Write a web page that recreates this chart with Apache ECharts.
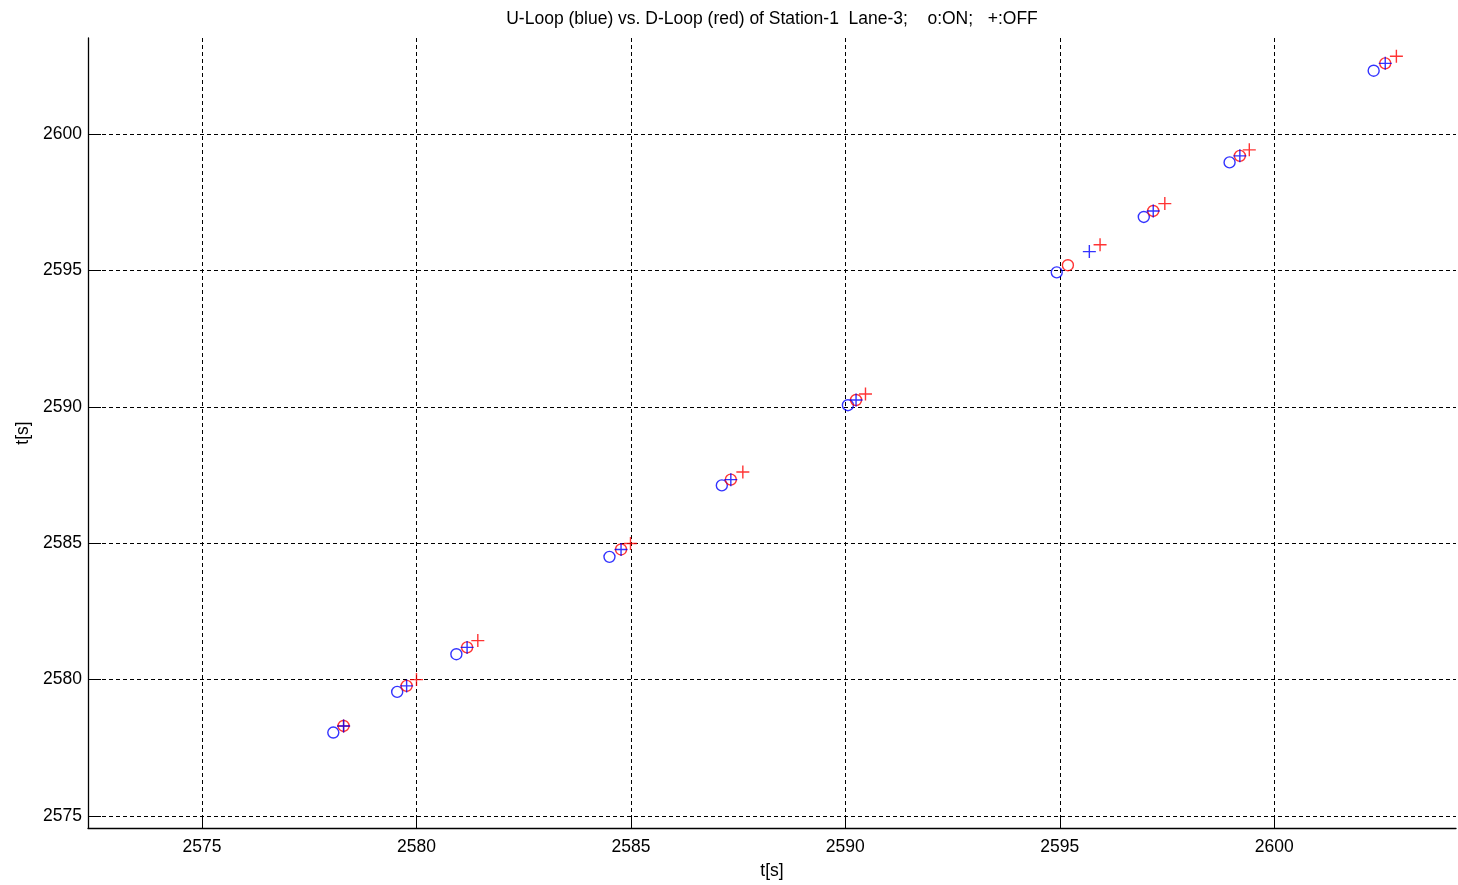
<!DOCTYPE html>
<html>
<head>
<meta charset="utf-8">
<script src="https://cdn.jsdelivr.net/npm/echarts@6/dist/echarts.min.js"></script>
<style>
html,body{margin:0;padding:0;background:#fff;}
#chart{width:1458px;height:885px;}
</style>
</head>
<body>
<div id="chart"></div>
<script>
// Times (points lie at (t, t))
var uLoopOn  = [2578.06, 2579.55, 2580.93, 2584.50, 2587.12, 2590.06, 2594.93, 2596.96, 2598.96, 2602.32];
var uLoopOff = [2578.30, 2579.77, 2581.18, 2584.77, 2587.33, 2590.25, 2595.69, 2597.18, 2599.20, 2602.59];
var dLoopOn  = [2578.30, 2579.77, 2581.18, 2584.77, 2587.33, 2590.25, 2595.19, 2597.18, 2599.20, 2602.59];
var dLoopOff = [2578.30, 2580.00, 2581.43, 2584.99, 2587.61, 2590.47, 2595.94, 2597.45, 2599.42, 2602.85];
var xTicks = [2575, 2580, 2585, 2590, 2595, 2600];
var yTicks = [2575, 2580, 2585, 2590, 2595, 2600];
var titleText = 'U-Loop (blue) vs. D-Loop (red) of Station-1  Lane-3;    o:ON;   +:OFF';

function pts(a){ return a.map(function(t){ return [t, t]; }); }

var FONT = 'Liberation Sans, Arial, sans-serif';
var FS = 17.5;
var plus = 'path://M6,0L6,12M0,6L12,6';

var chart = echarts.init(document.getElementById('chart'), null, {renderer:'canvas'});
var axisCommon = function(ticks){
  return {
    type: 'value',
    axisLine: {show: true, onZero: false, lineStyle: {color: '#000', width: 1.3}},
    axisTick: {show: true, inside: true, length: 13, customValues: ticks, lineStyle: {color: '#000', width: 1}},
    axisLabel: {customValues: ticks, color: '#000', fontFamily: FONT, fontSize: FS,
                formatter: function(v){ return String(v); }},
    splitLine: {show: true, lineStyle: {color: '#000', width: 1, type: [4, 3]}},
    nameTextStyle: {color: '#000', fontFamily: FONT, fontSize: FS}
  };
};
var xa = axisCommon(xTicks);
xa.min = 2572.34; xa.max = 2604.24;
xa.name = 't[s]'; xa.nameLocation = 'middle'; xa.nameGap = 34;
xa.axisLabel.margin = 10;
var ya = axisCommon(yTicks);
ya.min = 2574.56; ya.max = 2603.52;
ya.name = 't[s]'; ya.nameLocation = 'middle'; ya.nameGap = 56;
ya.axisLabel.margin = 6;

chart.setOption({
  animation: false,
  backgroundColor: '#fff',
  title: {
    text: titleText, left: 767, top: 5, textAlign: 'center',
    textStyle: {color: '#000', fontFamily: FONT, fontSize: FS, fontWeight: 'normal'}
  },
  grid: {left: 88, right: 2, top: 38, bottom: 57, containLabel: false, outerBoundsMode: 'none'},
  xAxis: xa,
  yAxis: ya,
  series: [
    {name: 'U-Loop ON', type: 'scatter', data: pts(uLoopOn), symbol: 'circle', symbolSize: 11,
     itemStyle: {color: 'transparent', borderColor: '#0000ff', borderWidth: 1.4}, z: 2},
    {name: 'D-Loop ON', type: 'scatter', data: pts(dLoopOn), symbol: 'circle', symbolSize: 11,
     itemStyle: {color: 'transparent', borderColor: '#ff0000', borderWidth: 1.4}, z: 3},
    {name: 'D-Loop OFF', type: 'scatter', data: pts(dLoopOff), symbol: plus, symbolSize: 13,
     itemStyle: {color: 'transparent', borderColor: '#ff0000', borderWidth: 1.4}, z: 4},
    {name: 'U-Loop OFF', type: 'scatter', data: pts(uLoopOff), symbol: plus, symbolSize: 13,
     itemStyle: {color: 'transparent', borderColor: '#0000ff', borderWidth: 1.4}, z: 5}
  ]
});
</script>
</body>
</html>
